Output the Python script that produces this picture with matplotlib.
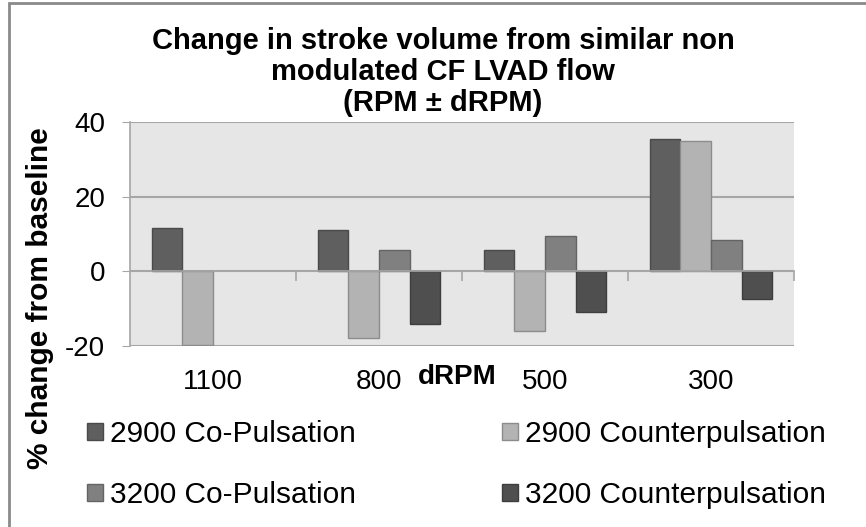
import numpy as np
import matplotlib
matplotlib.use("Agg")
import matplotlib.pyplot as plt
from matplotlib.patches import Rectangle

plt.rcParams['font.family'] = ['Liberation Sans', 'DejaVu Sans']

# data
categories = ["1100", "800", "500", "300"]
series_names = ["2900 Co-Pulsation", "2900 Counterpulsation",
                "3200 Co-Pulsation", "3200 Counterpulsation"]
co_2900 = [11.7, 11.0, 5.7, 35.5]
counter_2900 = [-19.6, -17.8, -15.9, 34.9]
co_3200 = [np.nan, 5.7, 9.4, 8.5]
counter_3200 = [np.nan, -14.0, -10.9, -7.4]

colors = ["#5f5f5f", "#b3b3b3", "#808080", "#4f4f4f"]
edges = ["#4a4a4a", "#8c8c8c", "#646464", "#3e3e3e"]

W, H = 866, 527
fig = plt.figure(figsize=(W / 100, H / 100), dpi=100)
ax = fig.add_axes([130 / W, 1 - 346 / H, (794 - 130) / W, (346 - 122) / H])
ax.set_facecolor("#e6e6e6")

x = np.arange(len(categories))
w = 0.185
all_series = [co_2900, counter_2900, co_3200, counter_3200]
for i, vals in enumerate(all_series):
    ax.bar(x + (i - 1.5) * w, vals, w, color=colors[i], edgecolor=edges[i],
           linewidth=1, label=series_names[i], zorder=3)

ax.set_xlim(-0.5, 3.5)
ax.set_ylim(-20, 40)
ax.set_yticks([-20, 0, 20, 40])
ax.set_yticklabels(["-20", "0", "20", "40"])
ax.yaxis.grid(True, color="#a6a6a6", linewidth=1.5)
ax.set_axisbelow(True)

for s in ["top", "right"]:
    ax.spines[s].set_visible(False)
ax.spines["left"].set_color("#a6a6a6")
ax.spines["left"].set_linewidth(1.2)
ax.spines["bottom"].set_position(("data", 0))
ax.spines["bottom"].set_color("#a6a6a6")
ax.spines["bottom"].set_linewidth(1.2)
ax.spines["bottom"].set_zorder(4)

ax.tick_params(axis="y", direction="out", length=6, color="#a6a6a6",
               labelsize=20, pad=12)
ax.set_xticks(x)
ax.set_xticklabels(categories)
ax.set_xticks(list(x + 0.5), minor=True)
ax.tick_params(axis="x", which="major", length=0, labelsize=20, pad=70)
ax.tick_params(axis="x", which="minor", direction="out", length=7,
               color="#a6a6a6", width=1.2)

fig.text(457 / W, 1 - 377 / H, "dRPM", fontsize=20, fontweight="bold",
         ha="center", va="center")
fig.text(40 / W, 1 - 298 / H, "% change from baseline", fontsize=21.5,
         fontweight="bold", rotation=90, ha="center", va="center")
fig.text(443 / W, 1 - 72 / H,
         "Change in stroke volume from similar non\nmodulated CF LVAD flow\n(RPM \u00b1 dRPM)",
         fontsize=21, fontweight="bold", ha="center", va="center",
         linespacing=1.12)

handles, labels = ax.get_legend_handles_labels()
order = [0, 2, 1, 3]
fig.legend([handles[k] for k in order], [labels[k] for k in order],
           ncol=2, loc="upper left", bbox_to_anchor=(87 / W, 1 - 420 / H),
           frameon=False, fontsize=21.5, handlelength=0.52, handleheight=0.52,
           handletextpad=0.25, columnspacing=4.9, labelspacing=1.1,
           borderaxespad=0, borderpad=0)

fig.patches.append(Rectangle((9 / W, -0.1), 2, 1 - 3 / H + 0.1,
                             transform=fig.transFigure, fill=False,
                             edgecolor="#8a8a8a", linewidth=2))

fig.savefig("out.png", dpi=100)
